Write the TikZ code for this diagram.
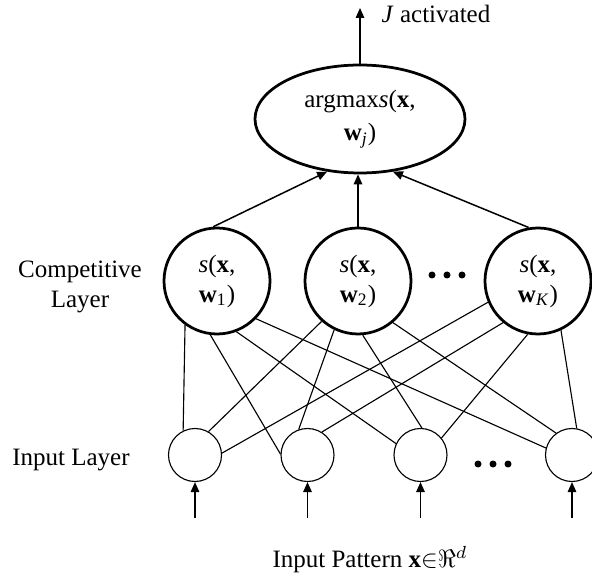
\documentclass[tikz,border=0pt]{standalone}
\usepackage{fontspec}
\setmainfont{Liberation Serif}
\usepackage{amssymb}
\usetikzlibrary{arrows.meta,shapes.geometric}

\begin{document}
\begin{tikzpicture}[x=0.4pt,y=-0.4pt,
		font=\fontsize{10}{12}\selectfont,
		compnode/.style={circle,draw,line width=1.1pt,minimum size=42.4pt,inner sep=0pt,align=center},
		inputnode/.style={circle,draw,line width=0.45pt,minimum size=21.2pt,inner sep=0pt},
		outnode/.style={ellipse,draw,line width=1.1pt,minimum width=84pt,minimum height=43.2pt,inner sep=0pt,align=center},
		link/.style={line width=0.45pt},
		flow/.style={line width=0.6pt,-{Triangle[length=4pt,width=3.4pt]}}]
		\useasboundingbox (0,0) rectangle (592,578); %画布
		\node[outnode] (E) at (360,119) {argmax\textit{s}(\textbf{x},\\[1.5pt]\textbf{w}\textsubscript{\textit{j}})}; %输出节点
		\coordinate (top) at (360,8);
		\node (act) at (436,14) {\textit{J} activated};
		\draw[flow] (E.north) -- (top); %输出箭头
		\node[compnode] (C1) at (217,281) {\textit{s}(\textbf{x},\\\textbf{w}\textsubscript{1})}; %竞争层
		\node[compnode] (C2) at (358,281) {\textit{s}(\textbf{x},\\\textbf{w}\textsubscript{2})};
		\node[compnode] (CK) at (538,281) {\textit{s}(\textbf{x},\\\textbf{w}\textsubscript{\textit{K}})};
		\foreach \x in {432,447,462} \fill (\x,275) circle (1.4pt); %省略号
		\node[align=center] (complbl) at (80,287) {Competitive\\Layer};
		\draw[flow] (C1.94) -- (E.238); %竞争层到输出
		\draw[flow] (C2.north) -- (C2.north |- E.south);
		\draw[flow] (CK.100) -- (E.302);
		\node[inputnode] (I1) at (195,455) {}; %输入层
		\node[inputnode] (I2) at (307.5,455) {};
		\node[inputnode] (I3) at (420.5,455) {};
		\node[inputnode] (I4) at (572,455) {};
		\foreach \x in {478,493,508} \fill (\x,464) circle (1.4pt); %省略号
		\node (inlbl) at (71,460) {Input Layer};
		\draw[link] (C1.234) -- (I1.116); %全连接
		\draw[link] (C2.228) -- (I1.60);
		\draw[link] (CK.203) -- (I1.4);
		\draw[link] (C1.263) -- (I2.178);
		\draw[link] (C2.244) -- (I2.109);
		\draw[link] (CK.230) -- (I2.58);
		\draw[link] (C1.291) -- (I3.155);
		\draw[link] (C2.275) -- (I3.87);
		\draw[link] (CK.259) -- (I3.39);
		\draw[link] (C1.316) -- (I4.165);
		\draw[link] (C2.310) -- (I4.126);
		\draw[link] (CK.295) -- (I4.80);
		\coordinate (p1) at (195,518); %输入箭头起点
		\coordinate (p2) at (307.5,518);
		\coordinate (p3) at (420.5,518);
		\coordinate (p4) at (572,518);
		\draw[flow] (p1) -- (I1);
		\draw[flow] (p2) -- (I2);
		\draw[flow] (p3) -- (I3);
		\draw[flow] (p4) -- (I4);
		\node (pattern) at (370,560) {Input Pattern \textbf{x}$\mathord{\in}\Re^{d}$};
	\end{tikzpicture}
\end{document}
